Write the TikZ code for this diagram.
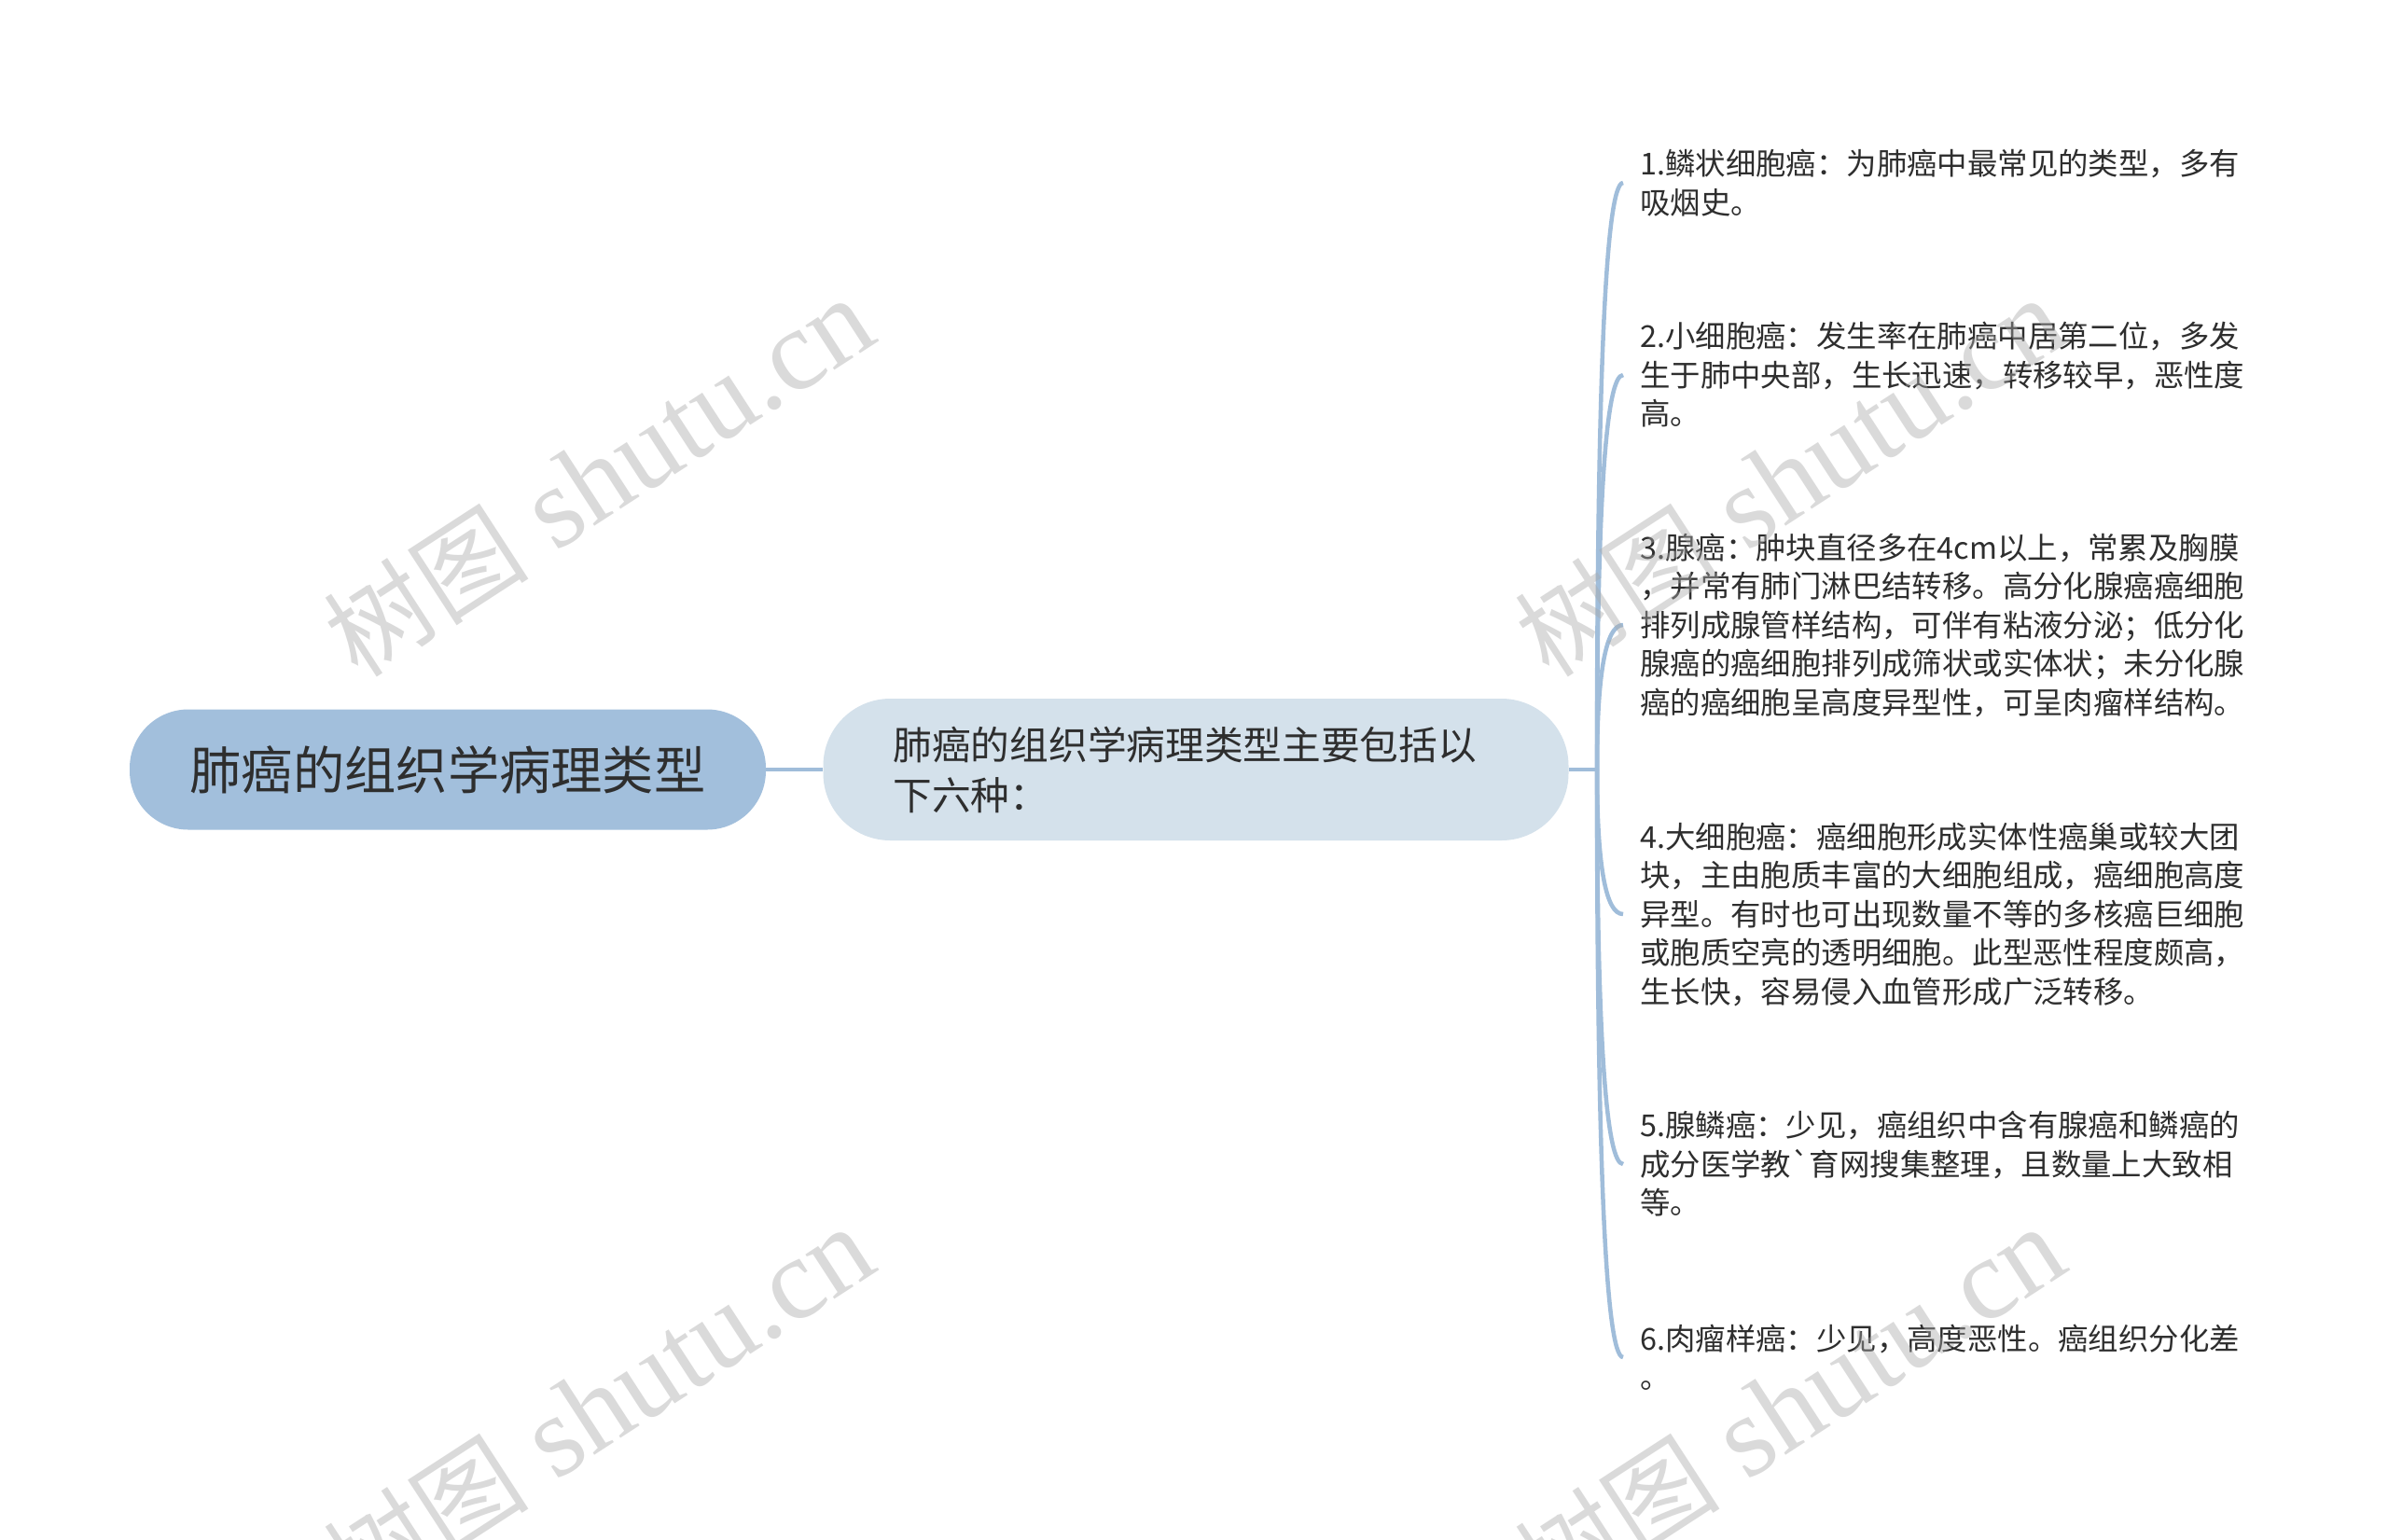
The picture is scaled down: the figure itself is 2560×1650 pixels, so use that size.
\documentclass[tikz,border=0pt]{standalone}
\usepackage{fontspec}
\setmainfont{Noto Sans CJK SC}[Ligatures=TeXOff]
\newfontfamily\wmserif{Liberation Serif}
\newfontfamily\wmcjk{Noto Sans CJK SC}
\usetikzlibrary{calc}
\definecolor{rootfill}{HTML}{A2BFDC}
\definecolor{midfill}{HTML}{D4E1EB}
\definecolor{edgecol}{HTML}{A0BDDA}
\definecolor{txt}{HTML}{2E2E2E}
\definecolor{wm}{HTML}{A8A8A8}
\newcommand{\wmtext}{{\wmcjk\fontsize{110}{120}\selectfont 树图}{\wmserif\fontsize{124}{130}\selectfont\ shutu.cn}}
\begin{document}
\begin{tikzpicture}[x=1pt,y=-1pt,
 rootnode/.style={fill=rootfill, rounded corners=63pt, minimum width=682pt, minimum height=129pt, inner sep=0pt, text=txt, font=\fontsize{55.3}{66}\selectfont},
 midnode/.style={fill=midfill, rounded corners=72pt, minimum width=799pt, minimum height=152pt, inner xsep=75pt, inner ysep=0pt, text width=649pt, align=left, text=txt, font=\fontsize{41.7}{54}\selectfont},
 leaf/.style={anchor=west, inner xsep=18pt, inner ysep=0pt, align=left, text=txt, font=\fontsize{32.4}{41.5}\selectfont},
 conn/.style={draw=edgecol, line width=4.5pt},
 watermark/.style={rotate=33, text=wm, opacity=0.42, inner sep=0pt}
]
\fill[white] (0,0) rectangle (2560,1650);
\useasboundingbox (0,0) rectangle (2560,1650);

% nodes
\node[rootnode] (root) at (480,825) {肺癌的组织学病理类型};
\node[midnode] (mid) at (1282,825) {肺癌的组织学病理类型主要包括以\\下六种：};
\coordinate (tr) at (1712,825);

\node[leaf] (l1) at (1740,196) {1.鳞状细胞癌：为肺癌中最常见的类型，多有\\吸烟史。};
\node[leaf] (l2) at (1740,402) {2.小细胞癌：发生率在肺癌中居第二位，多发\\生于肺中央部，生长迅速，转移较早，恶性度\\高。};
\node[leaf] (l3) at (1740,670) {3.腺癌：肿块直径多在4cm以上，常累及胸膜\\，并常有肺门淋巴结转移。高分化腺癌癌细胞\\排列成腺管样结构，可伴有粘液分泌；低分化\\腺癌的癌细胞排列成筛状或实体状；未分化腺\\癌的癌细胞呈高度异型性，可呈肉瘤样结构。};
\node[leaf] (l4) at (1740,980) {4.大细胞癌：癌细胞形成实体性癌巢或较大团\\块，主由胞质丰富的大细胞组成，癌细胞高度\\异型。有时也可出现数量不等的多核癌巨细胞\\或胞质空亮的透明细胞。此型恶性程度颇高，\\生长快，容易侵入血管形成广泛转移。};
\node[leaf] (l5) at (1740,1248) {5.腺鳞癌：少见，癌组织中含有腺癌和鳞癌的\\成分医学教\symbol{96}育网搜集整理，且数量上大致相\\等。};
\node[leaf] (l6) at (1740,1455) {6.肉瘤样癌：少见，高度恶性。癌组织分化差\\。};

% connectors
\draw[conn] (root.east) -- (mid.west);
\draw[conn] (mid.east) -- (tr);
\foreach \n in {l1,l2,l3,l4,l5,l6}{
  \draw[conn] (tr) .. controls ($(tr)!0.6667!(tr|-\n.west)$) and ($(\n.west)+(-18.7,0)$) .. (\n.west);
}

% watermarks
\node[watermark] (wm1) at (642,512) {\wmtext};
\node[watermark] (wm2) at (1919,512) {\wmtext};
\node[watermark] (wm3) at (642,1508) {\wmtext};
\node[watermark] (wm4) at (1919,1508) {\wmtext};
\end{tikzpicture}
\end{document}
